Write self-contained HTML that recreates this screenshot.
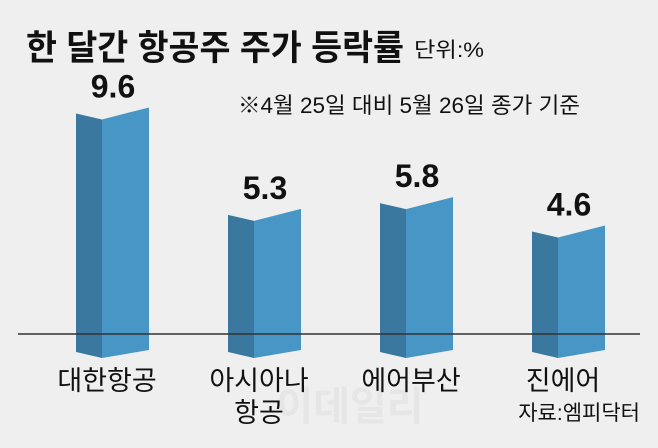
<!DOCTYPE html>
<html><head><meta charset="utf-8"><style>
html,body{margin:0;padding:0;background:#fff}
svg{display:block}
text{font-family:"Liberation Sans","Noto Sans CJK KR",sans-serif}
</style></head><body>
<svg id="chart" width="658" height="448" viewBox="0 0 658 448">
<rect x="0" y="0" width="658" height="448" fill="#efefef"/>
<text x="26" y="60" font-size="35" font-weight="bold" fill="#111" textLength="378" lengthAdjust="spacingAndGlyphs">한 달간 항공주 주가 등락률</text>
<text x="414" y="57" font-size="21" fill="#111" textLength="70" lengthAdjust="spacingAndGlyphs">단위:%</text>
<text x="238" y="113" font-size="22" fill="#111" textLength="342" lengthAdjust="spacingAndGlyphs">※4월 25일 대비 5월 26일 종가 기준</text>
<text x="350" y="420" font-size="40" font-weight="bold" fill="#e6e6e6" text-anchor="middle">이데일리</text>
<g id="bars"></g>
<line x1="18" y1="334" x2="640" y2="334" stroke="#333" stroke-width="1.5"/>
<text x="640" y="420" font-size="21" fill="#111" text-anchor="end">자료:엠피닥터</text>
</svg>
<script>
var categories = ["대한항공", "아시아나|항공", "에어부산", "진에어"];
var values = [9.6, 5.3, 5.8, 4.6];
var baseY = 334, unit = 23.6, x0 = 76, step = 152;
function yOf(v){ return baseY - v*unit; }
function xOf(i){ return x0 + i*step; }
var g = document.getElementById('bars');
var NS = "http://www.w3.org/2000/svg";
values.forEach(function(v,i){
  var l = xOf(i), m = l+26, r = l+73, top = yOf(v), bot = 356;
  var left = document.createElementNS(NS,'polygon');
  
  
  left.setAttribute('points', l+','+(top+6)+' '+m+','+(top+12)+' '+m+','+(bot+2)+' '+l+','+(bot-4));
  left.setAttribute('fill', '#3a78a0');
  g.appendChild(left);
  var right = document.createElementNS(NS,'polygon');
  
  
  right.setAttribute('points', m+','+(top+12)+' '+r+','+top+' '+r+','+(bot-6)+' '+m+','+(bot+2));
  right.setAttribute('fill', '#4896c6');
  g.appendChild(right);
  var t = document.createElementNS(NS,'text');
  
  
  t.setAttribute('x', l+37); t.setAttribute('y', top-10);
  t.setAttribute('text-anchor','middle'); t.setAttribute('font-size','32'); t.setAttribute('font-weight','bold'); t.setAttribute('fill','#111');
  t.textContent = v.toFixed(1);
  g.appendChild(t);
  categories[i].split('|').forEach(function(line,k){
    var c = document.createElementNS(NS,'text');
    
    
    c.setAttribute('x', l+31); c.setAttribute('y', 390+k*32);
    c.setAttribute('text-anchor','middle'); c.setAttribute('font-size','27'); c.setAttribute('fill','#111');
    c.textContent = line;
    document.getElementById('chart').appendChild(c);
  });
});
</script>
</body></html>
